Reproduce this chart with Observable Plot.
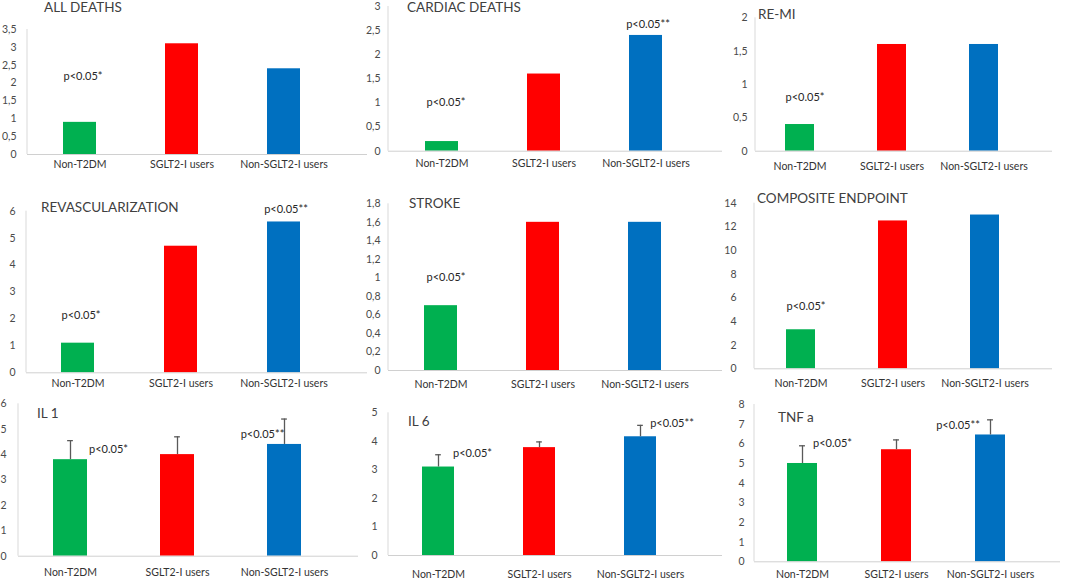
<!DOCTYPE html>
<html>
<head>
<meta charset="utf-8">
<script src="https://cdn.jsdelivr.net/npm/d3@7"></script>
<script src="https://cdn.jsdelivr.net/npm/@observablehq/plot@0.6"></script>
<style>
  html, body { margin: 0; padding: 0; background: #fff; }
  #wrap { position: relative; width: 1065px; height: 580px; overflow: hidden; background: #fff; font-family: Lato, "Noto Sans", sans-serif; }
  .panel { position: absolute; }
  .title { position: absolute; font-family: Lato, sans-serif; font-size: 13.5px; color: #404040; line-height: 16px; white-space: nowrap; }
</style>
</head>
<body>
<div id="wrap"></div>
<script>
// ---- data ----
const groups = ["Non-T2DM", "SGLT2-I users", "Non-SGLT2-I users"];
const groupColors = ["#00B050", "#FF0000", "#0070C0"];

const allDeaths = [0.9, 3.1, 2.4];
const cardiacDeaths = [0.2, 1.6, 2.4];
const reMI = [0.4, 1.6, 1.6];
const revascularization = [1.1, 4.7, 5.6];
const stroke = [0.7, 1.6, 1.6];
const composite = [3.3, 12.5, 13.0];
const il1 = [3.8, 4.0, 4.4];
const il1Err = [0.75, 0.7, 1.0];
const il6 = [3.1, 3.78, 4.16];
const il6Err = [0.43, 0.2, 0.4];
const tnf = [5.0, 5.7, 6.45];
const tnfErr = [0.9, 0.5, 0.77];

const ticksAllDeaths = [0, 0.5, 1, 1.5, 2, 2.5, 3, 3.5];
const ticksCardiac = [0, 0.5, 1, 1.5, 2, 2.5, 3];
const ticksReMI = [0, 0.5, 1, 1.5, 2];
const ticksRevasc = [0, 1, 2, 3, 4, 5, 6];
const ticksStroke = [0, 0.2, 0.4, 0.6, 0.8, 1, 1.2, 1.4, 1.6, 1.8];
const ticksComposite = [0, 2, 4, 6, 8, 10, 12, 14];
const ticksIL1 = [0, 1, 2, 3, 4, 5, 6];
const ticksIL6 = [0, 1, 2, 3, 4, 5];
const ticksTNF = [0, 1, 2, 3, 4, 5, 6, 7, 8];

const sig1 = "p<0.05*";
const sig2 = "p<0.05**";

// ---- layout ----
const panels = [
  {title: "ALL DEATHS", values: allDeaths, ticks: ticksAllDeaths,
   L: 0, T: 0, W: 370, H: 180, axisX: 27, baseEnd: 367, yTop: 29, y0: 154, xStart: 28, step: 102, gap: 11, catOff: 11, tx: 44, ty: 7,
   notes: [{g: 0, y: 2.18, dx: 3, t: sig1}]},
  {title: "CARDIAC DEATHS", values: cardiacDeaths, ticks: ticksCardiac,
   L: 355, T: 0, W: 370, H: 180, axisX: 388, baseEnd: 722, yTop: 6, y0: 150.7, xStart: 389.75, step: 102.5, gap: 8, catOff: 13, tx: 407, ty: 7,
   notes: [{g: 0, y: 1.01, dx: 4, t: sig1}, {g: 2, y: 2.63, dx: 2, t: sig2}]},
  {title: "RE-MI", values: reMI, ticks: ticksReMI,
   L: 705, T: 0, W: 360, H: 180, axisX: 755, baseEnd: 1052, yTop: 17.3, y0: 150.7, xStart: 754, step: 92, gap: 8, catOff: 16, tx: 758, ty: 14,
   notes: [{g: 0, y: 0.8, dx: 5, t: sig1}]},
  {title: "REVASCULARIZATION", values: revascularization, ticks: ticksRevasc,
   L: 0, T: 180, W: 370, H: 210, axisX: 26, baseEnd: 367, yTop: 210.7, y0: 372.3, xStart: 26, step: 103, gap: 11, catOff: 12, tx: 41, ty: 207,
   notes: [{g: 0, y: 2.13, dx: 3, t: sig1}, {g: 2, y: 6.07, dx: 2, t: sig2}]},
  {title: "STROKE", values: stroke, ticks: ticksStroke,
   L: 355, T: 180, W: 370, H: 210, axisX: 388, baseEnd: 722, yTop: 203.3, y0: 370, xStart: 389, step: 102, gap: 8, catOff: 15, tx: 409, ty: 203,
   notes: [{g: 0, y: 1.0, dx: 5, t: sig1}]},
  {title: "COMPOSITE ENDPOINT", values: composite, ticks: ticksComposite,
   L: 705, T: 180, W: 360, H: 210, axisX: 754, baseEnd: 1052, yTop: 202.7, y0: 368.3, xStart: 753.7, step: 92.7, gap: 18, catOff: 16, tx: 757, ty: 198,
   notes: [{g: 0, y: 5.27, dx: 5, t: sig1}]},
  {title: "IL 1", values: il1, err: il1Err, ticks: ticksIL1,
   L: 0, T: 390, W: 370, H: 190, axisX: 18, baseEnd: 358, yTop: 403.3, y0: 555.7, xStart: 16.5, step: 107, gap: 12, catOff: 17, tx: 37, ty: 413,
   notes: [{g: 0, y: 4.2, dx: 38, t: sig1}, {g: 2, y: 4.79, dx: -22, t: sig2}]},
  {title: "IL 6", values: il6, err: il6Err, ticks: ticksIL6,
   L: 355, T: 390, W: 370, H: 190, axisX: 388, baseEnd: 722, yTop: 412.3, y0: 555, xStart: 387.5, step: 101, gap: 11, catOff: 20, tx: 408, ty: 421,
   notes: [{g: 0, y: 3.58, dx: 34, t: sig1}, {g: 2, y: 4.63, dx: 31.5, t: sig2}]},
  {title: "TNF a", values: tnf, err: tnfErr, ticks: ticksTNF,
   L: 705, T: 390, W: 360, H: 190, axisX: 754, baseEnd: 1060, yTop: 404, y0: 561.3, xStart: 755, step: 94, gap: 10, catOff: 14, tx: 778, ty: 417,
   notes: [{g: 0, y: 6.02, dx: 30, t: sig1}, {g: 2, y: 6.93, dx: -32.5, t: sig2}]}
];

const PAD = 0.68;
const fmt = d => String(d).replace(".", ",");
const wrap = document.getElementById("wrap");

for (const p of panels) {
  const data = groups.map((g, i) => ({group: g, value: p.values[i], err: p.err ? p.err[i] : null, color: groupColors[i]}));
  const mL = p.axisX - p.L;
  const mR = p.L + p.W - p.baseEnd;
  const mT = p.yTop - p.T;
  const mB = p.T + p.H - p.y0;
  const r0 = p.xStart - p.L;
  const bw = p.step * (1 - PAD);
  const notes = p.notes.map(n => ({group: groups[n.g], y: n.y, dx: n.dx, t: n.t}));

  const axisLine = (index, scales, values, dims) => {
    const l = document.createElementNS("http://www.w3.org/2000/svg", "line");
    l.setAttribute("x1", dims.marginLeft);
    l.setAttribute("x2", dims.marginLeft);
    l.setAttribute("y1", dims.marginTop);
    l.setAttribute("y2", dims.height - dims.marginBottom);
    l.setAttribute("stroke", "#d9d9d9");
    l.setAttribute("stroke-width", "1");
    return l;
  };

  const marks = [
    axisLine,
    Plot.barY(data, {x: "group", y: "value", fill: "color"}),
  ];
  if (p.err) {
    marks.push(Plot.ruleX(data, {x: "group", y1: "value", y2: d => d.value + d.err, stroke: "#595959", strokeWidth: 1.3}));
    marks.push(Plot.tickY(data, {x: "group", y: d => d.value + d.err, stroke: "#595959", strokeWidth: 1.3, insetLeft: (bw - 6) / 2, insetRight: (bw - 6) / 2}));
  }
  marks.push(Plot.ruleY([0], {stroke: "#d0d0d0", strokeWidth: 1}));
  for (const n of notes) {
    marks.push(Plot.text([n], {x: "group", y: "y", text: "t", dx: n.dx, fill: "#262626", fontSize: 11}));
  }
  marks.push(Plot.axisY({ticks: p.ticks, tickFormat: fmt, tickSize: 0, tickPadding: p.gap, fill: "#4a4a4a", fontSize: 10.5}));
  marks.push(Plot.axisX({tickSize: 0, tickPadding: p.catOff - 5, fill: "#333333", fontSize: 10.5}));

  const chart = Plot.plot({
    width: p.W,
    height: p.H,
    marginLeft: mL,
    marginRight: mR,
    marginTop: mT,
    marginBottom: mB,
    style: {fontFamily: "Lato, sans-serif", background: "transparent", overflow: "visible"},
    x: {domain: groups, range: [r0, r0 + 3 * p.step], paddingInner: PAD, paddingOuter: PAD / 2, label: null},
    y: {domain: [0, p.ticks[p.ticks.length - 1]], label: null},
    color: {type: "identity"},
    marks
  });
  const holder = document.createElement("div");
  holder.className = "panel";
  holder.style.left = p.L + "px";
  holder.style.top = p.T + "px";
  holder.appendChild(chart);
  wrap.appendChild(holder);

  const t = document.createElement("div");
  t.className = "title";
  t.textContent = p.title;
  t.style.left = p.tx + "px";
  t.style.top = (p.ty - 8) + "px";
  wrap.appendChild(t);
}
</script>
</body>
</html>
